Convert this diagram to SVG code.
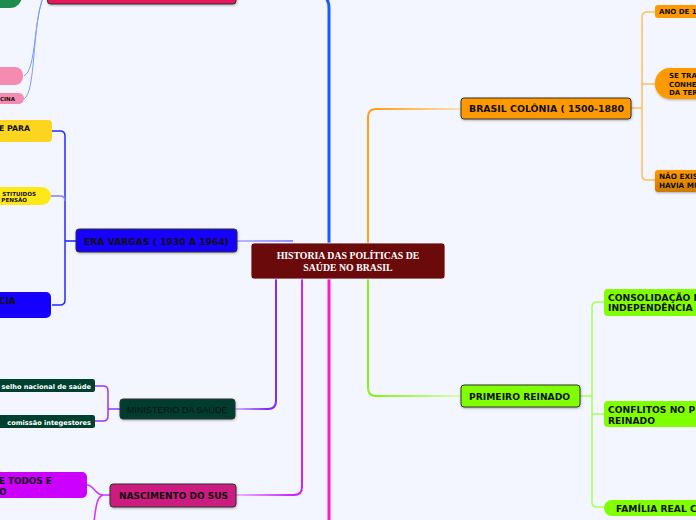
<svg xmlns="http://www.w3.org/2000/svg" width="696" height="520" viewBox="0 0 696 520">
<style>
.t{font-family:"DejaVu Sans",Verdana,sans-serif;font-weight:bold;fill:#111}
.w{fill:#fff}
.main{stroke:#333;stroke-width:1}
.c{fill:none;stroke-linecap:round}
</style>
<defs>
<linearGradient id="gO" gradientUnits="userSpaceOnUse" x1="376" y1="0" x2="461" y2="0"><stop offset="0" stop-color="#ff9f1a"/><stop offset="1" stop-color="#f9e1bd"/></linearGradient>
<linearGradient id="gG" gradientUnits="userSpaceOnUse" x1="376" y1="0" x2="461" y2="0"><stop offset="0" stop-color="#84f51a"/><stop offset="1" stop-color="#d6ffb0"/></linearGradient>
<linearGradient id="gP" gradientUnits="userSpaceOnUse" x1="268" y1="0" x2="236" y2="0"><stop offset="0" stop-color="#7d2bff"/><stop offset="1" stop-color="#cdb3ff"/></linearGradient>
<linearGradient id="gM" gradientUnits="userSpaceOnUse" x1="294" y1="0" x2="236" y2="0"><stop offset="0" stop-color="#cc22ff"/><stop offset="1" stop-color="#e9b8ff"/></linearGradient>
<linearGradient id="gV" gradientUnits="userSpaceOnUse" x1="293" y1="0" x2="237" y2="0"><stop offset="0" stop-color="#8f8fff"/><stop offset="1" stop-color="#b8b8ff"/></linearGradient>
<linearGradient id="gNE" x1="0" y1="0" x2="0" y2="1"><stop offset="0" stop-color="#ff9900"/><stop offset="1" stop-color="#cc7a00"/></linearGradient>
<filter id="sh" x="-10%" y="-20%" width="130%" height="160%"><feDropShadow dx="0.5" dy="1" stdDeviation="0.8" flood-color="#000" flood-opacity="0.3"/></filter>
</defs>
<rect width="696" height="520" fill="#f3f6fe"/>

<g id="connectors">
  <!-- central to top (blue) -->
  <path class="c" d="M329,243 V8 Q329,0 324,-4" stroke="#1a5cff" stroke-width="3"/>
  <!-- central to pink bottom -->
  <path class="c" d="M329,279 V522" stroke="#ff1acc" stroke-width="3"/>
  <!-- orange to Brasil Colonia -->
  <path class="c" d="M368,243 V117 Q368,109 376,109" stroke="#ff9f1a" stroke-width="2"/>
  <path class="c" d="M376,109 H461" stroke="url(#gO)" stroke-width="2"/>
  <!-- green to Primeiro Reinado -->
  <path class="c" d="M368,279 V388 Q368,396 376,396" stroke="#84f51a" stroke-width="2"/>
  <path class="c" d="M376,396 H461" stroke="url(#gG)" stroke-width="2"/>
  <!-- purple to Ministerio -->
  <path class="c" d="M276,279 V401 Q276,409 268,409" stroke="#7d2bff" stroke-width="2"/>
  <path class="c" d="M268,409 H236" stroke="url(#gP)" stroke-width="2"/>
  <!-- magenta to Nascimento -->
  <path class="c" d="M302,279 V487 Q302,495 294,495" stroke="#cc22ff" stroke-width="2"/>
  <path class="c" d="M294,495 H236" stroke="url(#gM)" stroke-width="2"/>
  <!-- Era Vargas -->
  <path d="M237,240 L293,240 L293,242 L237,242 Z" fill="url(#gV)"/>

  <!-- Brasil Colonia bracket -->
  <g stroke="#ffbf5e" stroke-width="1.5" fill="none">
    <path d="M631,108 H642"/>
    <path d="M655,12 H647 Q642,12 642,17 V175 Q642,180 647,180 H655"/>
    <path d="M642,84 H655"/>
  </g>
  <!-- Primeiro Reinado bracket -->
  <g stroke="#a8ff55" stroke-width="1.5" fill="none">
    <path d="M580,396 H592"/>
    <path d="M604,302 H597 Q592,302 592,307 V502 Q592,507 597,507 H604"/>
    <path d="M592,414 Q592,414 597,414 H604"/>
  </g>
  <!-- Era Vargas bracket -->
  <g fill="none" stroke-width="1.5">
    <path d="M76,241 H65" stroke="#1a1aff"/>
    <path d="M52,131 H60 Q65,131 65,136 V300 Q65,305 60,305 H52" stroke="#2a2aff"/>
    <path d="M51,196 H60 Q65,196 65,201" stroke="#8080ff"/>
  </g>
  <!-- Ministerio bracket -->
  <g fill="none" stroke="#9933ff" stroke-width="1.5">
    <path d="M120,409 H108"/>
    <path d="M95,386 H103 Q108,386 108,391 V416 Q108,421 103,421 H95"/>
  </g>
  <!-- Nascimento -->
  <g fill="none" stroke="#cc33ff" stroke-width="1.5">
    <path d="M110,495 H103"/>
    <path d="M103,495 C95,495 94,485 87,485"/>
    <path d="M103,495 C97,497 96,505 94,522"/>
  </g>
  <!-- top-left light blue -->
  <g fill="none" stroke="#7b9cff" stroke-width="1">
    <path d="M43,-2 C34,20 36,70 24,76"/>
    <path d="M43,-2 C32,25 36,92 24,99"/>
  </g>
</g>

<g id="central">
  <rect x="251" y="243" width="194" height="36" rx="3" fill="#6b0a0a" stroke="#f3f6fe" stroke-width="0.8"/>
  <text x="348" y="258.5" text-anchor="middle" font-family="'Liberation Serif',serif" font-weight="bold" font-size="9.8" fill="#fff">HISTORIA DAS POLÍTICAS DE</text>
  <text x="348" y="270.5" text-anchor="middle" font-family="'Liberation Serif',serif" font-weight="bold" font-size="9.8" fill="#fff">SAÚDE NO BRASIL</text>
</g>

<g id="top-pink">
  <rect x="47.5" y="-20" width="188.5" height="24" rx="3" fill="#e8175d" class="main" filter="url(#sh)"/>
</g>
<g id="top-green">
  <rect x="-22" y="-20" width="44" height="28" rx="12" fill="#1e8c4e"/>
</g>
<g id="pink-a">
  <rect x="-20" y="67" width="43" height="18" rx="8" fill="#f58bb0"/>
</g>
<g id="pink-b">
  <rect x="-20" y="93" width="44" height="11" rx="5.5" fill="#f58bb0"/>
  <text class="t" x="0" y="101" font-size="5.5">CINA</text>
</g>

<g id="brasil-colonia">
  <rect x="461" y="98" width="170" height="21" rx="3" fill="#ff9900" class="main" filter="url(#sh)"/>
  <text class="t" x="469" y="112" font-size="9.4">BRASIL COLÔNIA ( 1500-1880</text>
</g>
<g id="ano">
  <rect x="655" y="5" width="60" height="13" rx="3" fill="#ff9900"/>
  <text class="t" x="659" y="14" font-size="7">ANO DE 1</text>
</g>
<g id="setra">
  <rect x="655" y="68" width="60" height="31" rx="15" fill="#ff9900" filter="url(#sh)"/>
  <text class="t" x="669" y="78" font-size="7">SE TRA</text>
  <text class="t" x="669" y="86.5" font-size="7">CONHE</text>
  <text class="t" x="669" y="95" font-size="7">DA TER</text>
</g>
<g id="naoexis">
  <rect x="655" y="170" width="60" height="22" rx="3" fill="url(#gNE)" filter="url(#sh)"/>
  <text class="t" x="659" y="179" font-size="7.3">NÃO EXIS</text>
  <text class="t" x="659" y="187.5" font-size="7.3">HAVIA MU</text>
</g>

<g id="primeiro-reinado">
  <rect x="461" y="385" width="119" height="22" rx="3" fill="#80ff00" class="main" filter="url(#sh)"/>
  <text class="t" x="469" y="399.5" font-size="9.2">PRIMEIRO REINADO</text>
</g>
<g id="consolidacao">
  <rect x="604" y="289" width="100" height="27" rx="4" fill="#80ff00"/>
  <text class="t" x="608" y="300.5" font-size="9.2">CONSOLIDAÇÃO D</text>
  <text class="t" x="608" y="311" font-size="9.2">INDEPENDÊNCIA</text>
</g>
<g id="conflitos">
  <rect x="604" y="401" width="100" height="26" rx="4" fill="#80ff00"/>
  <text class="t" x="608" y="412.5" font-size="9.2">CONFLITOS NO P</text>
  <text class="t" x="608" y="423.5" font-size="9.2">REINADO</text>
</g>
<g id="familia">
  <rect x="604" y="500" width="100" height="16" rx="8" fill="#80ff00"/>
  <text class="t" x="616" y="511.5" font-size="9.2">FAMÍLIA REAL C</text>
</g>

<g id="era-vargas">
  <rect x="76" y="229" width="161" height="23" rx="3" fill="#1500ff" class="main" filter="url(#sh)"/>
  <text class="t" x="84" y="244.5" font-size="9.2">ERA VARGAS ( 1930 A 1964)</text>
</g>
<g id="epara">
  <rect x="-10" y="120" width="62" height="22" rx="4" fill="#fdd41e"/>
  <text class="t" x="-1" y="130.5" font-size="7.8">E PARA</text>
</g>
<g id="stituidos">
  <rect x="-20" y="187" width="71" height="18" rx="9" fill="#ffe818"/>
  <text class="t" x="36" y="195.5" font-size="5.6" text-anchor="end">STITUIDOS</text>
  <text class="t" x="27" y="202" font-size="5.6" text-anchor="end">PENSÃO</text>
</g>
<g id="cia">
  <rect x="-10" y="292" width="61" height="26" rx="5" fill="#1500ff"/>
  <text class="t" x="-1" y="303.5" font-size="8.8">CIA</text>
</g>

<g id="ministerio">
  <rect x="120" y="399" width="115" height="20" rx="3" fill="#003d2e" class="main" filter="url(#sh)"/>
  <text x="127" y="412.5" font-family="'Liberation Sans',Arial,sans-serif" font-size="9" fill="#111">MINISTERIO DA SAÚDE</text>
</g>
<g id="conselho">
  <rect x="-10" y="379" width="105" height="13" rx="2.5" fill="#00402e"/>
  <text class="t w" x="91" y="388.5" font-size="6.6" text-anchor="end">selho nacional de saúde</text>
</g>
<g id="comissao">
  <rect x="-10" y="415" width="105" height="13" rx="2.5" fill="#00402e"/>
  <text class="t w" x="91" y="424.5" font-size="6.6" text-anchor="end">comissão integestores</text>
</g>

<g id="nascimento">
  <rect x="110" y="484" width="126" height="23" rx="3" fill="#cc1a80" class="main" filter="url(#sh)"/>
  <text class="t" x="119" y="499" font-size="9">NASCIMENTO DO SUS</text>
</g>
<g id="etodos">
  <rect x="-10" y="472" width="97" height="26" rx="5" fill="#cc00ff"/>
  <text class="t" x="-1" y="484" font-size="8.8">E TODOS E</text>
  <text class="t" x="-1" y="495" font-size="8.8">O</text>
</g>
</svg>
